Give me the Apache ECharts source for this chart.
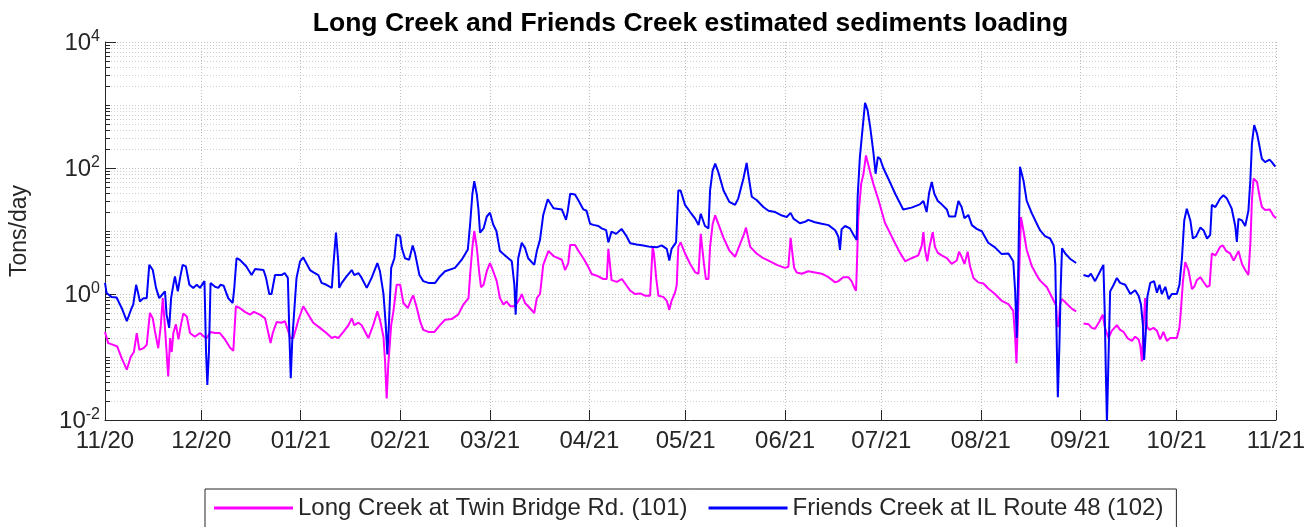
<!DOCTYPE html>
<html>
<head>
<meta charset="utf-8">
<title>Long Creek and Friends Creek estimated sediments loading</title>
<script src="https://cdn.jsdelivr.net/npm/echarts@6/dist/echarts.min.js"></script>
<style>
  html, body { margin: 0; padding: 0; background: #ffffff; }
  #chart { width: 1316px; height: 527px; }
</style>
</head>
<body>
<div id="chart"></div>
<script>
// Record start (day 0) and month tick labels (MM/YY)
const recordStart = [2020, 10, 1];
const monthLabels = ['11/20', '12/20', '01/21', '02/21', '03/21', '04/21', '05/21',
                     '06/21', '07/21', '08/21', '09/21', '10/21', '11/21'];

// Log axis: labelled decades and range (tons/day)
const yLabelTicks = [0.01, 1, 100, 10000];
const yMin = 0.01, yMax = 10000;

// Long Creek at Twin Bridge Rd. (101): day of record, load in tons/day
const longDays = [
  0, 1, 2.6, 3.8, 5.2, 6.8, 8, 9, 9.9, 10.7, 12, 13, 14, 14.9, 15.6, 16.6, 17.4, 18, 18.5, 19.2,
  19.7, 20.3, 20.8, 21.3, 22.1, 22.9, 23.7, 24.4, 25.5, 26.5, 28, 29.6, 30.9, 31.7, 32.9, 34.3, 35.8, 37.4, 39, 40,
  40.8, 42, 43.6, 45.2, 46.4, 48.3, 49.9, 51, 51.6, 52.3, 53.5, 55, 56.1, 57.2, 57.7, 58.7, 60.3, 61.8, 63.4, 64.9,
  67, 69, 70.7, 71.7, 72.7, 74.3, 75.9, 76.9, 77.7, 79, 80, 82.1, 83.6, 84.9, 85.7, 86.8, 87.3, 87.8, 88.3, 89.2,
  89.9, 90.4, 90.9, 92, 93, 94.4, 95.6, 96.1, 97.2, 98.2, 99.2, 100.8, 102.7, 104.4, 106, 108, 110.1, 111.7, 113.3, 113.8,
  114.5, 115.1, 115.9, 116.6, 117.2, 118, 119, 120, 121, 122.1, 123.1, 124.2, 125.2, 126.3, 127.8, 129.4, 129.9, 130.9, 131.9, 133.8,
  134.6, 135.6, 136.6, 138.2, 139.8, 142.4, 143.4, 144.4, 145, 146.5, 147.5, 149.1, 150.7, 151.7, 153.3, 155.3, 156.4, 156.9, 157.4, 157.9,
  159.5, 161.1, 162.1, 163.7, 165.2, 166.8, 168.3, 169.9, 170.7, 171.1, 171.8, 172.5, 174, 175.1, 175.9, 176.6, 177.7, 178.2, 178.7, 179.4,
  180.8, 182.4, 184, 185, 185.7, 186.3, 186.7, 187.3, 188.1, 188.6, 189.4, 190.2, 191.2, 192.8, 194.6, 196.4, 198, 199.2, 199.8, 201.1,
  203.1, 205.2, 207.3, 209.4, 211.9, 213, 213.7, 214.2, 214.8, 215.6, 217.2, 219.2, 221.3, 223.4, 225.5, 227.6, 228.6, 230.1, 231.7, 232.7,
  233.6, 234.1, 234.3, 234.8, 235.7, 236.4, 237.2, 237.7, 238.5, 239.5, 241.1, 243.1, 245.2, 247.8, 249.4, 251.4, 253.5, 254.6, 255.1, 255.6,
  256.3, 257, 258, 258.7, 259.6, 260.8, 262.4, 263.9, 265.5, 266.2, 267, 267.9, 268.9, 269.6, 270.7, 272.2, 273.8, 275.3, 277.4, 279.5,
  281.6, 283.1, 283.7, 284.1, 284.5, 284.9, 285.5, 286.3, 287.3, 288.9, 290.9, 291.5, 293.6, 295.7, 296.5, 296.7, 297.2, 297.7, 298.3, 299.8,
  301.4, 302.7, 304, 305, 306.6, 307.6, 308.6, 310, 311, 311.6, 312.8, 313.8, 315.4, 316.4, 317.5, 318.7, 320.1, 321.1, 322.2, 322.7,
  323.2, 323.7, 324.2, 324.8, 325.6, 326.8, 327.9, 328.9, 329.9, 331, 332, 334.1, 334.9, 335.3, 336, 336.7, 337.7, 338.8, 339.5, 340.3,
  341.4, 342.4, 343.5, 344.3, 345, 346.1, 347.6, 348.4, 349.5, 350.7, 351.8, 352.3, 353.3, 354.4, 355.4, 356.4, 357, 357.5, 358, 359.1,
  359.9, 360.6, 361.6, 363, 363.7, 364.2, 365
];
const longLoad = [
  0.25, 0.166, 0.156, 0.147, 0.096, 0.063, 0.1, 0.12, 0.24, 0.13, 0.138, 0.156, 0.5, 0.41, 0.25, 0.138, 0.32, 0.86, 0.41, 0.12,
  0.049, 0.2, 0.12, 0.24, 0.33, 0.19, 0.33, 0.49, 0.44, 0.24, 0.21, 0.24, 0.21, 0.2, 0.25, 0.24, 0.24, 0.19, 0.14, 0.125,
  0.64, 0.6, 0.52, 0.47, 0.52, 0.47, 0.41, 0.23, 0.166, 0.24, 0.36, 0.35, 0.37, 0.25, 0.2, 0.2, 0.39, 0.64, 0.47, 0.35,
  0.29, 0.24, 0.2, 0.21, 0.2, 0.25, 0.32, 0.41, 0.32, 0.35, 0.32, 0.2, 0.32, 0.53, 0.39, 0.21, 0.085, 0.022, 0.075, 0.32,
  0.53, 0.86, 1.4, 1.4, 0.72, 0.6, 0.86, 0.95, 0.6, 0.37, 0.27, 0.25, 0.25, 0.32, 0.39, 0.4, 0.47, 0.68, 0.86, 2.0,
  5.4, 10, 5.4, 2.3, 1.28, 1.4, 2.3, 3.1, 2.3, 1.6, 0.86, 0.68, 0.76, 0.64, 0.64, 0.86, 1.0, 0.72, 0.64, 0.5,
  0.86, 1.0, 2.9, 4.8, 4.0, 3.5, 2.4, 3.1, 6.0, 6.0, 4.9, 3.7, 2.65, 2.08, 1.95, 1.73, 1.73, 5.2, 5.2, 1.66,
  1.56, 1.73, 1.47, 1.13, 1.0, 1.02, 0.94, 0.94, 5.6, 4.4, 1.8, 0.94, 0.9, 0.78, 0.56, 0.78, 1.06, 1.38, 5.6, 6.6,
  4.4, 3.0, 2.2, 2.1, 9, 9, 3.0, 1.73, 1.73, 5.6, 12.9, 17.7, 12.9, 7.8, 4.9, 3.9, 6.3, 9, 11.3, 5.6,
  4.4, 3.7, 3.3, 2.9, 2.6, 2.7, 7.8, 7.8, 2.6, 2.2, 2.1, 2.3, 2.2, 2.1, 1.85, 1.53, 1.6, 1.85, 1.85, 1.6,
  1.25, 1.13, 2.2, 16.6, 56, 80, 158, 124, 86, 56, 31, 13.5, 8.2, 4.5, 3.3, 3.7, 4.1, 5.9, 9.6, 5.0,
  3.3, 5.6, 9.6, 5.6, 4.5, 4.1, 3.7, 3.0, 3.4, 4.7, 3.9, 3.0, 4.7, 2.8, 1.8, 1.53, 1.47, 1.22, 1.0, 0.78,
  0.69, 0.54, 0.2, 0.08, 0.3, 1.87, 16.6, 10, 5.0, 2.75, 1.8, 1.63, 1.28, 0.78, 0.65, 0.33, 0.3, 0.7, 0.83, 0.7,
  0.58, 0.53, null, 0.34, 0.33, 0.29, 0.28, 0.37, 0.47, 0.3, 0.2, 0.26, 0.32, 0.27, 0.25, 0.2, 0.18, 0.21, 0.19, 0.15,
  0.085, 0.3, 0.86, 0.3, 0.27, 0.29, 0.26, 0.19, 0.25, 0.18, 0.2, 0.2, 0.29, 0.5, 1.6, 3.2, 2.4, 1.2, 1.3, 1.65,
  1.85, 1.55, 1.3, 1.35, 4.4, 4.1, 5.6, 5.9, 4.8, 4.4, 3.4, 3.8, 4.8, 3.0, 2.4, 2.0, 6.3, 31, 68, 60,
  35, 24, 21.6, 22, 19.5, 17.4, 16
];

// Friends Creek at IL Route 48 (102): day of record, load in tons/day
const friendsDays = [
  0, 0.5, 2, 3.6, 5.2, 6.8, 8.3, 8.8, 9.7, 10.2, 10.9, 12, 13, 13.8, 14.9, 15.9, 16.9, 18, 18.7, 19.2,
  20, 20.6, 21.3, 21.8, 22.7, 23.4, 24.2, 25.2, 26.3, 27.5, 28.6, 29.6, 31, 31.5, 31.9, 32.4, 32.9, 34.3, 35.3, 36,
  37, 38.4, 39.8, 40.3, 41, 42, 44, 45.7, 46.8, 49.4, 50.2, 51.2, 51.9, 53, 55, 56, 57, 57.5, 57.9, 58.4,
  59.7, 60.8, 61.8, 63.9, 65, 66.5, 67.5, 69, 70.7, 71.2, 72, 72.4, 72.7, 73, 73.8, 75.3, 76.9, 77.7, 79, 80,
  81.6, 83.1, 84.9, 85.7, 86.8, 87.5, 88, 88.5, 89.2, 90.2, 90.9, 92, 92.5, 93.5, 94.8, 95.9, 96.6, 98, 99.2, 100.8,
  102.9, 104.4, 106, 109.1, 111.2, 113.1, 113.8, 114.5, 115.1, 115.9, 116.4, 116.9, 118, 119, 120, 121, 122, 123.1, 124.7, 125.7,
  126.8, 127.6, 128, 128.4, 128.8, 129.9, 130.9, 131.9, 133.8, 134.6, 135.6, 136.6, 138, 139.8, 142.4, 143.7, 144.2, 145, 146.5, 147.5,
  149.1, 150.1, 151.2, 152.2, 153.8, 154.8, 156.2, 156.9, 157.9, 159.3, 161, 162.6, 163.7, 165.7, 167.8, 169.9, 172, 173.5, 175.1, 175.9,
  176.6, 178, 178.7, 179.4, 180.8, 182.4, 184, 185, 185.7, 186.3, 187, 188.1, 188.6, 189.4, 190.2, 191.2, 192.8, 194.6, 196.4, 197.4,
  199, 200, 200.5, 201.6, 203.1, 205.2, 206.8, 208.9, 211, 212.5, 213.7, 214.6, 216.6, 218.2, 219.2, 221.3, 223.4, 225.5, 227.6, 228.6,
  229.1, 229.6, 230.7, 232.2, 233.3, 234.3, 234.6, 235.3, 236.4, 236.9, 237.7, 238.5, 239.5, 240.2, 240.9, 241.6, 242.6, 244.2, 246.3, 248.8,
  251.4, 254, 255.1, 256.1, 256.9, 257.7, 258.5, 259.6, 260.8, 262.4, 263.1, 265, 266, 267, 267.9, 269.1, 270.2, 271.7, 273.3, 275.3,
  277.4, 279.5, 281.6, 283.1, 283.7, 284.2, 284.7, 285.2, 286.3, 287.3, 288.9, 290.9, 291.5, 293, 294.6, 295.7, 296.2, 296.5, 297, 297.5,
  297.9, 298.3, 299.3, 300.9, 302.7, 304, 305, 306.6, 307.3, 308.6, 310, 311.2, 311.6, 312, 312.3, 312.8, 313.3, 314.4, 315.4, 316.4,
  318, 319.6, 321.1, 322.2, 322.9, 323.5, 323.9, 324.5, 324.9, 325.8, 327, 327.9, 328.7, 329.4, 330.5, 331.5, 332.5, 334.1, 334.9, 335.7,
  336.4, 337.2, 338.3, 339.1, 340.1, 341.4, 342.4, 343.5, 344.5, 345, 346.1, 347.6, 348.6, 349.7, 351.2, 352.3, 352.8, 353.3, 354.4, 355.4,
  356.4, 357, 357.5, 358.2, 359.1, 359.9, 360.6, 361.6, 363, 363.7, 364.8
];
const friendsLoad = [
  1.5, 1.04, 0.9, 0.88, 0.6, 0.37, 0.6, 0.68, 1.4, 1.1, 0.76, 0.86, 0.86, 2.9, 2.4, 1.25, 0.86, 1.0, 1.1, 0.47,
  0.29, 0.86, 1.4, 1.9, 1.1, 1.8, 2.9, 2.75, 1.4, 1.25, 1.4, 1.25, 1.6, 0.12, 0.036, 0.12, 1.5, 1.3, 1.25, 1.4,
  1.35, 0.86, 0.72, 1.25, 3.7, 3.5, 2.75, 2.0, 2.5, 2.4, 1.8, 1.0, 1.0, 2.0, 2.0, 2.15, 1.8, 0.2, 0.046, 0.2,
  1.8, 3.3, 3.8, 2.4, 2.2, 2.0, 1.5, 1.4, 1.25, 2.9, 9.4, 9.4, 3.3, 1.25, 1.5, 1.9, 2.4, 2.0, 2.15, 1.8,
  1.25, 1.8, 3.1, 2.3, 1.0, 0.33, 0.11, 0.33, 2.6, 3.7, 8.8, 8.3, 5.4, 3.7, 3.5, 5.9, 4.5, 2.0, 1.6, 1.5,
  1.5, 1.9, 2.3, 2.6, 3.5, 5.1, 12.7, 38, 62, 38, 22, 9.4, 11, 17, 19.5, 12.7, 10, 4.8, 4.1, 3.7,
  3.3, 1.4, 0.47, 1.4, 3.7, 6.5, 5.4, 3.7, 2.9, 4.8, 7.3, 18, 32, 23, 22, 15, 20, 39, 38, 31,
  22, 21, 13, 12.5, 12, 11, 10.3, 6.6, 9.8, 9, 10.8, 8.2, 6.4, 6.1, 5.9, 5.6, 5.5, 5.9, 5.2, 3.4,
  5.2, 6.6, 44, 44, 26, 20, 15.6, 12.4, 18.8, 20, 12, 11, 44, 91, 117, 85, 44, 29, 26, 33,
  68, 120, 80, 35, 31, 24, 21, 20, 17.6, 16.7, 19.4, 15.7, 13.3, 14, 15, 13.8, 13, 12.4, 10.3, 8.1,
  5.0, 10.7, 12, 11, 8.7, 7.2, 35, 150, 580, 1080, 830, 450, 178, 81, 150, 140, 100, 67, 39, 22,
  23.5, 26.5, 30, 20, 41, 60, 39, 30, 26.5, 22, 17, 17, 30, 24, 16, 18, 12.4, 10.8, 9.9, 6.5,
  5.5, 4.3, 4.4, 3.3, 1.1, 0.2, 3, 105, 63, 30, 19, 11.7, 10.2, 8.3, 7.6, 5.9, 3.0, 0.43, 0.023, 0.16,
  1.3, 5.3, 4.4, 3.6, 3.1, null, 2.0, 1.9, 2.1, 1.6, 2.2, 2.9, 0.54, 0.047, 0.009, 0.1, 1.1, 1.4, 1.8, 1.5,
  1.4, 1.0, 1.15, 0.93, 0.69, 0.33, 0.09, 0.3, 0.9, 1.5, 1.6, 1.05, 1.4, 1.0, 1.3, 0.83, 1.0, 1.0, 1.4, 3.8,
  14.7, 22.6, 14.7, 7.6, 8.2, 11.3, 10.3, 7.6, 8.7, 26, 24, 32.7, 37, 32.7, 22.6, 12, 6.7, 15.6, 14.7, 12,
  21, 63, 245, 480, 350, 215, 140, 124, 136, 124, 105
];

const DAY_MS = 86400000;
const t0 = new Date(recordStart[0], recordStart[1], recordStart[2]).getTime();
const toPairs = (days, loads) => days.map((d, i) => [t0 + d * DAY_MS, loads[i]]);

// Month start timestamps for the x axis, parsed from the MM/YY labels
const monthTicks = monthLabels.map(s => {
  const [mm, yy] = s.split('/').map(Number);
  return new Date(2000 + yy, mm - 1, 1).getTime();
});
const pad2 = n => (n < 10 ? '0' : '') + n;
const monthLabel = v => {
  const d = new Date(v);
  return pad2(d.getMonth() + 1) + '/' + pad2(d.getFullYear() % 100);
};

// Minor log ticks: 2..9 in every decade, plus the unlabelled decades
const yMinorTicks = [];
for (let e = -2; e < 4; e++) {
  for (let k = 1; k <= 9; k++) {
    if (k === 1 && e % 2 === 0) continue;
    yMinorTicks.push(+(k * Math.pow(10, e)).toPrecision(3));
  }
}

const AXIS_COLOR = '#262626';
const FONT = 'Liberation Sans, Arial, Helvetica, sans-serif';
const GRID = { left: 105, top: 42, width: 1171, height: 378 };

const chart = echarts.init(document.getElementById('chart'), null, { renderer: 'canvas' });

chart.setOption({
  animation: false,
  backgroundColor: '#ffffff',
  textStyle: { fontFamily: FONT },
  graphic: [{
    type: 'text',
    x: GRID.left + GRID.width / 2,
    y: 10,
    style: {
      text: 'Long Creek and Friends Creek estimated sediments loading',
      align: 'center',
      verticalAlign: 'top',
      font: 'bold 26.5px ' + FONT,
      fill: '#000000'
    }
  }],
  grid: Object.assign({ containLabel: false }, GRID),
  legend: {
    left: 205,
    top: 489,
    orient: 'horizontal',
    padding: [7, 13, 9, 9],
    itemGap: 21,
    itemWidth: 79,
    itemHeight: 3,
    icon: 'rect',
    borderColor: AXIS_COLOR,
    borderWidth: 1,
    backgroundColor: '#ffffff',
    textStyle: { fontSize: 24, color: AXIS_COLOR, fontFamily: FONT },
    data: ['Long Creek at Twin Bridge Rd. (101)', 'Friends Creek at IL Route 48 (102)']
  },
  xAxis: {
    type: 'time',
    min: monthTicks[0],
    max: monthTicks[monthTicks.length - 1],
    splitNumber: monthTicks.length - 1,
    minInterval: 28 * DAY_MS,
    maxInterval: 31 * DAY_MS,
    axisLine: { show: true, lineStyle: { color: AXIS_COLOR, width: 1 } },
    axisTick: { show: true, inside: true, length: 10, lineStyle: { color: AXIS_COLOR, width: 1 } },
    axisLabel: {
      margin: 9,
      fontSize: 24,
      fontWeight: 'normal',
      color: AXIS_COLOR,
      fontFamily: FONT,
      hideOverlap: false,
      showMinLabel: true,
      showMaxLabel: true,
      formatter: v => monthLabel(v)
    },
    splitLine: { show: true, lineStyle: { color: '#bdbdbd', type: [1, 2], width: 1 } }
  },
  yAxis: [{
    type: 'log',
    logBase: 10,
    min: yMin,
    max: yMax,
    position: 'left',
    name: 'Tons/day',
    nameLocation: 'middle',
    nameGap: 74,
    nameTextStyle: { fontSize: 23, color: AXIS_COLOR, fontFamily: FONT },
    axisLine: { show: true, lineStyle: { color: AXIS_COLOR, width: 1 } },
    axisTick: { show: true, inside: true, length: 11, customValues: yLabelTicks,
                lineStyle: { color: AXIS_COLOR, width: 1 } },
    axisLabel: {
      customValues: yLabelTicks,
      margin: 5,
      color: AXIS_COLOR,
      fontFamily: FONT,
      showMinLabel: true,
      showMaxLabel: true,
      formatter: v => '{b|10}{s|' + Math.round(Math.log10(v)) + '}',
      rich: {
        b: { fontSize: 24, lineHeight: 26, color: AXIS_COLOR, fontFamily: FONT, verticalAlign: 'bottom' },
        s: { fontSize: 16, lineHeight: 26, color: AXIS_COLOR, fontFamily: FONT, verticalAlign: 'top' }
      }
    },
    splitLine: { show: true, lineStyle: { color: '#bdbdbd', type: [1, 2], width: 1 } }
  }, {
    // minor log ticks and their dotted grid lines
    type: 'log',
    logBase: 10,
    min: yMin,
    max: yMax,
    position: 'left',
    axisLine: { show: false },
    axisTick: { show: true, inside: true, length: 5, customValues: yMinorTicks,
                lineStyle: { color: AXIS_COLOR, width: 1 } },
    axisLabel: { show: false },
    splitLine: { show: true, lineStyle: { color: '#cfcfcf', type: [1, 2], width: 1 } }
  }],
  series: [{
    name: 'Long Creek at Twin Bridge Rd. (101)',
    type: 'line',
    yAxisIndex: 0,
    data: toPairs(longDays, longLoad),
    showSymbol: false,
    symbol: 'none',
    connectNulls: false,
    clip: true,
    lineStyle: { color: '#ff00ff', width: 2 },
    itemStyle: { color: '#ff00ff' }
  }, {
    name: 'Friends Creek at IL Route 48 (102)',
    type: 'line',
    yAxisIndex: 0,
    data: toPairs(friendsDays, friendsLoad),
    showSymbol: false,
    symbol: 'none',
    connectNulls: false,
    clip: true,
    lineStyle: { color: '#0000ff', width: 2 },
    itemStyle: { color: '#0000ff' }
  }]
});
</script>
</body>
</html>
